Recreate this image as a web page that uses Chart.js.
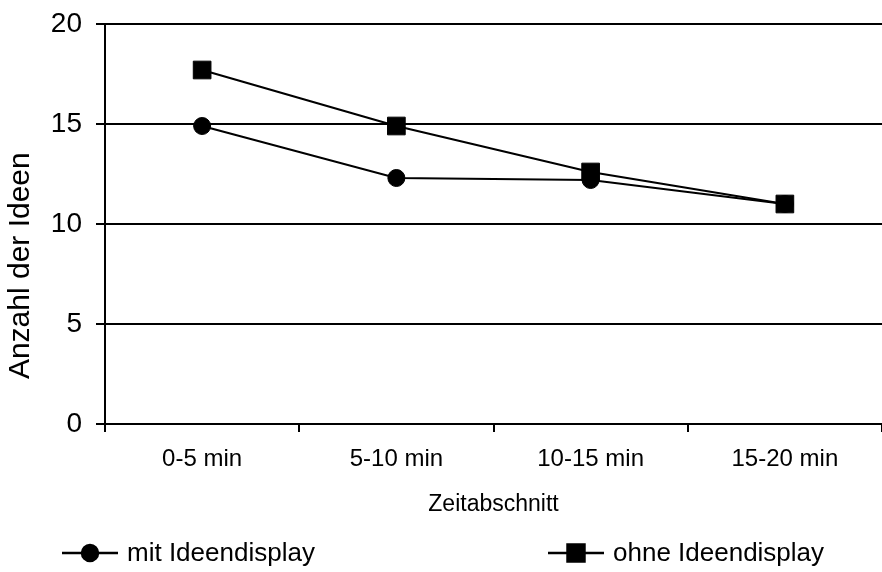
<!DOCTYPE html>
<html>
<head>
<meta charset="utf-8">
<script src="https://cdn.jsdelivr.net/npm/chart.js@4"></script>
<style>
  body { margin: 0; background: #fff; }
  #chart { display: block; }
</style>
</head>
<body>
<canvas id="chart" width="882" height="572"></canvas>
<script>
const categories = ['0-5 min', '5-10 min', '10-15 min', '15-20 min'];
const mitValues = [14.9, 12.3, 12.2, 11.0];
const ohneValues = [17.7, 14.9, 12.6, 11.0];
const seriesNames = ['mit Ideendisplay', 'ohne Ideendisplay'];
const yTicks = [0, 5, 10, 15, 20];

const font = "'Liberation Sans', Arial, sans-serif";

// legend drawn below the axis title: line with marker in the middle
const bottomLegend = {
    id: 'bottomLegend',
    afterDraw(chart) {
        let ctx = chart.ctx;
        let y = 553;
        let items = [
            { x: 62, style: 'circle', r: 8, text: seriesNames[0] },
            { x: 548, style: 'rect', r: 12, text: seriesNames[1] }
        ];
        ctx.save();
        items.forEach(it => {
            ctx.strokeStyle = '#000';
            ctx.lineWidth = 2.5;
            ctx.beginPath();
            ctx.moveTo(it.x, y);
            ctx.lineTo(it.x + 56, y);
            ctx.stroke();
            ctx.fillStyle = '#000';
            Chart.helpers.drawPoint(ctx, { pointStyle: it.style, radius: it.r, borderWidth: 1 }, it.x + 28, y);
            ctx.fill();
            ctx.font = '26px ' + font;
            ctx.textBaseline = 'middle';
            ctx.textAlign = 'left';
            ctx.fillText(it.text, it.x + 65, y + 1);
        });
        ctx.restore();
    }
};

new Chart(document.getElementById('chart').getContext('2d'), {
    type: 'line',
    data: {
        labels: categories,
        datasets: [{
            label: seriesNames[0],
            data: mitValues,
            borderColor: '#000',
            backgroundColor: '#000',
            borderWidth: 2.2,
            pointStyle: 'circle',
            pointRadius: 8.5,
            pointBorderWidth: 1,
            order: 2
        }, {
            label: seriesNames[1],
            data: ohneValues,
            borderColor: '#000',
            backgroundColor: '#000',
            borderWidth: 2.2,
            pointStyle: 'rect',
            pointRadius: 12.5,
            pointBorderWidth: 1,
            order: 1
        }]
    },
    options: {
        responsive: false,
        animation: false,
        devicePixelRatio: 1,
        layout: { autoPadding: false, padding: { top: 24, right: 0, bottom: 54, left: 0 } },
        plugins: {
            legend: { display: false },
            tooltip: { enabled: false }
        },
        scales: {
            x: {
                offset: true,
                grid: { offset: true, drawOnChartArea: false, color: '#000', lineWidth: 2, tickLength: 8 },
                border: { color: '#000', width: 2 },
                ticks: { color: '#000', font: { family: font, size: 24 }, padding: 13, maxRotation: 0 },
                title: { display: true, text: 'Zeitabschnitt', color: '#000', font: { family: font, size: 23 }, padding: 0 },
                afterFit: s => { s.height = 94; s.paddingLeft = 0; s.paddingRight = 0; }
            },
            y: {
                min: 0,
                max: 20,
                afterBuildTicks: s => { s.ticks = yTicks.map(v => ({ value: v })); },
                grid: { color: '#000', lineWidth: 2, tickLength: 9 },
                border: { color: '#000', width: 2 },
                ticks: { color: '#000', font: { family: font, size: 28 }, padding: 14 },
                // trailing spaces push the rotated title down like in the original
                title: { display: true, text: 'Anzahl der Ideen          ', color: '#000', font: { family: font, size: 30 }, padding: { top: 3, bottom: 0 } },
                afterFit: s => { s.width = 105; s.paddingTop = 0; s.paddingBottom = 0; }
            }
        }
    },
    plugins: [bottomLegend]
});
</script>
</body>
</html>
